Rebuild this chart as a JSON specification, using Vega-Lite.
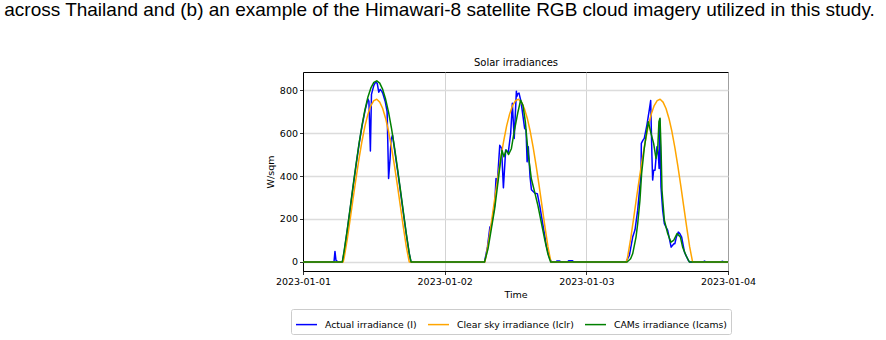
{
  "$schema": "https://vega.github.io/schema/vega-lite/v6.json",
  "width": 425,
  "height": 199,
  "autosize": {"type": "none"},
  "padding": {"left": 303, "top": 72, "right": 158, "bottom": 69},
  "background": "#ffffff",
  "title": {
    "text": "across Thailand and (b) an example of the Himawari-8 satellite RGB cloud imagery utilized in this study.",
    "anchor": "middle",
    "frame": "group",
    "dx": -76,
    "offset": 37,
    "font": "Liberation Sans",
    "fontSize": 19,
    "fontWeight": "normal",
    "color": "#000000"
  },
  "data": {
    "values": [
      {"t": "2023-01-01T00:00", "s": "actual", "v": 0},
      {"t": "2023-01-01T05:15", "s": "actual", "v": 0},
      {"t": "2023-01-01T05:25", "s": "actual", "v": 49},
      {"t": "2023-01-01T05:35", "s": "actual", "v": 8},
      {"t": "2023-01-01T05:45", "s": "actual", "v": 4},
      {"t": "2023-01-01T05:55", "s": "actual", "v": 0},
      {"t": "2023-01-01T06:40", "s": "actual", "v": 0},
      {"t": "2023-01-01T07:00", "s": "actual", "v": 50},
      {"t": "2023-01-01T07:30", "s": "actual", "v": 148},
      {"t": "2023-01-01T08:00", "s": "actual", "v": 248},
      {"t": "2023-01-01T08:30", "s": "actual", "v": 352},
      {"t": "2023-01-01T09:00", "s": "actual", "v": 452},
      {"t": "2023-01-01T09:30", "s": "actual", "v": 548},
      {"t": "2023-01-01T10:00", "s": "actual", "v": 632},
      {"t": "2023-01-01T10:30", "s": "actual", "v": 703},
      {"t": "2023-01-01T11:00", "s": "actual", "v": 758},
      {"t": "2023-01-01T11:10", "s": "actual", "v": 748},
      {"t": "2023-01-01T11:25", "s": "actual", "v": 516},
      {"t": "2023-01-01T11:36", "s": "actual", "v": 780},
      {"t": "2023-01-01T12:00", "s": "actual", "v": 822},
      {"t": "2023-01-01T12:20", "s": "actual", "v": 838},
      {"t": "2023-01-01T12:35", "s": "actual", "v": 830},
      {"t": "2023-01-01T12:50", "s": "actual", "v": 790},
      {"t": "2023-01-01T13:05", "s": "actual", "v": 803},
      {"t": "2023-01-01T13:20", "s": "actual", "v": 795},
      {"t": "2023-01-01T13:30", "s": "actual", "v": 786},
      {"t": "2023-01-01T13:55", "s": "actual", "v": 748},
      {"t": "2023-01-01T14:15", "s": "actual", "v": 700},
      {"t": "2023-01-01T14:30", "s": "actual", "v": 389},
      {"t": "2023-01-01T14:45", "s": "actual", "v": 480},
      {"t": "2023-01-01T14:55", "s": "actual", "v": 570},
      {"t": "2023-01-01T15:10", "s": "actual", "v": 590},
      {"t": "2023-01-01T15:30", "s": "actual", "v": 525},
      {"t": "2023-01-01T16:00", "s": "actual", "v": 430},
      {"t": "2023-01-01T16:30", "s": "actual", "v": 330},
      {"t": "2023-01-01T17:00", "s": "actual", "v": 228},
      {"t": "2023-01-01T17:30", "s": "actual", "v": 128},
      {"t": "2023-01-01T18:00", "s": "actual", "v": 38},
      {"t": "2023-01-01T18:18", "s": "actual", "v": 0},
      {"t": "2023-01-02T06:45", "s": "actual", "v": 0},
      {"t": "2023-01-02T07:15", "s": "actual", "v": 70},
      {"t": "2023-01-02T07:40", "s": "actual", "v": 163},
      {"t": "2023-01-02T07:54", "s": "actual", "v": 169},
      {"t": "2023-01-02T08:28", "s": "actual", "v": 262},
      {"t": "2023-01-02T08:42", "s": "actual", "v": 389},
      {"t": "2023-01-02T08:55", "s": "actual", "v": 365},
      {"t": "2023-01-02T09:20", "s": "actual", "v": 543},
      {"t": "2023-01-02T09:38", "s": "actual", "v": 530},
      {"t": "2023-01-02T09:57", "s": "actual", "v": 345},
      {"t": "2023-01-02T10:20", "s": "actual", "v": 521},
      {"t": "2023-01-02T10:47", "s": "actual", "v": 510},
      {"t": "2023-01-02T11:11", "s": "actual", "v": 599},
      {"t": "2023-01-02T11:28", "s": "actual", "v": 739},
      {"t": "2023-01-02T11:34", "s": "actual", "v": 684},
      {"t": "2023-01-02T11:47", "s": "actual", "v": 575},
      {"t": "2023-01-02T12:09", "s": "actual", "v": 795},
      {"t": "2023-01-02T12:14", "s": "actual", "v": 770},
      {"t": "2023-01-02T12:22", "s": "actual", "v": 782},
      {"t": "2023-01-02T12:36", "s": "actual", "v": 786},
      {"t": "2023-01-02T12:56", "s": "actual", "v": 746},
      {"t": "2023-01-02T13:33", "s": "actual", "v": 622},
      {"t": "2023-01-02T13:47", "s": "actual", "v": 614},
      {"t": "2023-01-02T13:58", "s": "actual", "v": 466},
      {"t": "2023-01-02T14:10", "s": "actual", "v": 536},
      {"t": "2023-01-02T14:28", "s": "actual", "v": 396},
      {"t": "2023-01-02T14:42", "s": "actual", "v": 336},
      {"t": "2023-01-02T15:18", "s": "actual", "v": 320},
      {"t": "2023-01-02T15:42", "s": "actual", "v": 318},
      {"t": "2023-01-02T16:08", "s": "actual", "v": 258},
      {"t": "2023-01-02T16:40", "s": "actual", "v": 169},
      {"t": "2023-01-02T17:00", "s": "actual", "v": 116},
      {"t": "2023-01-02T17:13", "s": "actual", "v": 76},
      {"t": "2023-01-02T17:48", "s": "actual", "v": 15},
      {"t": "2023-01-02T18:06", "s": "actual", "v": 0},
      {"t": "2023-01-02T18:50", "s": "actual", "v": 0},
      {"t": "2023-01-02T19:00", "s": "actual", "v": 5},
      {"t": "2023-01-02T19:30", "s": "actual", "v": 5},
      {"t": "2023-01-02T19:40", "s": "actual", "v": 0},
      {"t": "2023-01-02T20:50", "s": "actual", "v": 0},
      {"t": "2023-01-02T21:00", "s": "actual", "v": 6},
      {"t": "2023-01-02T21:40", "s": "actual", "v": 6},
      {"t": "2023-01-02T21:50", "s": "actual", "v": 0},
      {"t": "2023-01-03T06:43", "s": "actual", "v": 0},
      {"t": "2023-01-03T07:17", "s": "actual", "v": 30},
      {"t": "2023-01-03T07:51", "s": "actual", "v": 116},
      {"t": "2023-01-03T08:15", "s": "actual", "v": 150},
      {"t": "2023-01-03T08:42", "s": "actual", "v": 241},
      {"t": "2023-01-03T09:16", "s": "actual", "v": 412},
      {"t": "2023-01-03T09:19", "s": "actual", "v": 552},
      {"t": "2023-01-03T09:36", "s": "actual", "v": 567},
      {"t": "2023-01-03T09:49", "s": "actual", "v": 575},
      {"t": "2023-01-03T10:16", "s": "actual", "v": 638},
      {"t": "2023-01-03T10:40", "s": "actual", "v": 708},
      {"t": "2023-01-03T10:54", "s": "actual", "v": 751},
      {"t": "2023-01-03T11:07", "s": "actual", "v": 490},
      {"t": "2023-01-03T11:14", "s": "actual", "v": 381},
      {"t": "2023-01-03T11:24", "s": "actual", "v": 427},
      {"t": "2023-01-03T11:38", "s": "actual", "v": 427},
      {"t": "2023-01-03T11:58", "s": "actual", "v": 536},
      {"t": "2023-01-03T12:12", "s": "actual", "v": 497},
      {"t": "2023-01-03T12:20", "s": "actual", "v": 435},
      {"t": "2023-01-03T12:26", "s": "actual", "v": 665},
      {"t": "2023-01-03T12:39", "s": "actual", "v": 349},
      {"t": "2023-01-03T12:56", "s": "actual", "v": 241},
      {"t": "2023-01-03T13:13", "s": "actual", "v": 178},
      {"t": "2023-01-03T13:47", "s": "actual", "v": 147},
      {"t": "2023-01-03T14:22", "s": "actual", "v": 69},
      {"t": "2023-01-03T14:50", "s": "actual", "v": 85},
      {"t": "2023-01-03T15:00", "s": "actual", "v": 85},
      {"t": "2023-01-03T15:15", "s": "actual", "v": 116},
      {"t": "2023-01-03T15:35", "s": "actual", "v": 139},
      {"t": "2023-01-03T15:50", "s": "actual", "v": 132},
      {"t": "2023-01-03T16:09", "s": "actual", "v": 116},
      {"t": "2023-01-03T16:38", "s": "actual", "v": 45},
      {"t": "2023-01-03T17:17", "s": "actual", "v": 7},
      {"t": "2023-01-03T17:30", "s": "actual", "v": 0},
      {"t": "2023-01-03T19:50", "s": "actual", "v": 0},
      {"t": "2023-01-03T20:00", "s": "actual", "v": 4},
      {"t": "2023-01-03T20:20", "s": "actual", "v": 0},
      {"t": "2023-01-03T22:50", "s": "actual", "v": 0},
      {"t": "2023-01-03T23:00", "s": "actual", "v": 3},
      {"t": "2023-01-03T23:20", "s": "actual", "v": 0},
      {"t": "2023-01-04T00:00", "s": "actual", "v": 0},

      {"t": "2023-01-01T00:00", "s": "clear", "v": 0},
      {"t": "2023-01-01T06:48", "s": "clear", "v": 0},
      {"t": "2023-01-01T07:00", "s": "clear", "v": 24},
      {"t": "2023-01-01T07:30", "s": "clear", "v": 106},
      {"t": "2023-01-01T08:00", "s": "clear", "v": 201},
      {"t": "2023-01-01T08:30", "s": "clear", "v": 298},
      {"t": "2023-01-01T09:00", "s": "clear", "v": 392},
      {"t": "2023-01-01T09:30", "s": "clear", "v": 482},
      {"t": "2023-01-01T10:00", "s": "clear", "v": 563},
      {"t": "2023-01-01T10:30", "s": "clear", "v": 633},
      {"t": "2023-01-01T11:00", "s": "clear", "v": 688},
      {"t": "2023-01-01T11:30", "s": "clear", "v": 728},
      {"t": "2023-01-01T12:00", "s": "clear", "v": 751},
      {"t": "2023-01-01T12:30", "s": "clear", "v": 757},
      {"t": "2023-01-01T13:00", "s": "clear", "v": 744},
      {"t": "2023-01-01T13:30", "s": "clear", "v": 714},
      {"t": "2023-01-01T14:00", "s": "clear", "v": 668},
      {"t": "2023-01-01T14:30", "s": "clear", "v": 607},
      {"t": "2023-01-01T15:00", "s": "clear", "v": 532},
      {"t": "2023-01-01T15:30", "s": "clear", "v": 447},
      {"t": "2023-01-01T16:00", "s": "clear", "v": 355},
      {"t": "2023-01-01T16:30", "s": "clear", "v": 259},
      {"t": "2023-01-01T17:00", "s": "clear", "v": 162},
      {"t": "2023-01-01T17:30", "s": "clear", "v": 71},
      {"t": "2023-01-01T18:00", "s": "clear", "v": 0},
      {"t": "2023-01-02T06:48", "s": "clear", "v": 0},
      {"t": "2023-01-02T07:00", "s": "clear", "v": 24},
      {"t": "2023-01-02T07:30", "s": "clear", "v": 106},
      {"t": "2023-01-02T08:00", "s": "clear", "v": 201},
      {"t": "2023-01-02T08:30", "s": "clear", "v": 298},
      {"t": "2023-01-02T09:00", "s": "clear", "v": 392},
      {"t": "2023-01-02T09:30", "s": "clear", "v": 482},
      {"t": "2023-01-02T10:00", "s": "clear", "v": 563},
      {"t": "2023-01-02T10:30", "s": "clear", "v": 633},
      {"t": "2023-01-02T11:00", "s": "clear", "v": 688},
      {"t": "2023-01-02T11:30", "s": "clear", "v": 728},
      {"t": "2023-01-02T12:00", "s": "clear", "v": 751},
      {"t": "2023-01-02T12:30", "s": "clear", "v": 757},
      {"t": "2023-01-02T13:00", "s": "clear", "v": 744},
      {"t": "2023-01-02T13:30", "s": "clear", "v": 714},
      {"t": "2023-01-02T14:00", "s": "clear", "v": 668},
      {"t": "2023-01-02T14:30", "s": "clear", "v": 607},
      {"t": "2023-01-02T15:00", "s": "clear", "v": 532},
      {"t": "2023-01-02T15:30", "s": "clear", "v": 447},
      {"t": "2023-01-02T16:00", "s": "clear", "v": 355},
      {"t": "2023-01-02T16:30", "s": "clear", "v": 259},
      {"t": "2023-01-02T17:00", "s": "clear", "v": 162},
      {"t": "2023-01-02T17:30", "s": "clear", "v": 71},
      {"t": "2023-01-02T18:00", "s": "clear", "v": 0},
      {"t": "2023-01-03T06:48", "s": "clear", "v": 0},
      {"t": "2023-01-03T07:00", "s": "clear", "v": 24},
      {"t": "2023-01-03T07:30", "s": "clear", "v": 106},
      {"t": "2023-01-03T08:00", "s": "clear", "v": 201},
      {"t": "2023-01-03T08:30", "s": "clear", "v": 298},
      {"t": "2023-01-03T09:00", "s": "clear", "v": 392},
      {"t": "2023-01-03T09:30", "s": "clear", "v": 482},
      {"t": "2023-01-03T10:00", "s": "clear", "v": 563},
      {"t": "2023-01-03T10:30", "s": "clear", "v": 633},
      {"t": "2023-01-03T11:00", "s": "clear", "v": 688},
      {"t": "2023-01-03T11:30", "s": "clear", "v": 728},
      {"t": "2023-01-03T12:00", "s": "clear", "v": 751},
      {"t": "2023-01-03T12:30", "s": "clear", "v": 757},
      {"t": "2023-01-03T13:00", "s": "clear", "v": 744},
      {"t": "2023-01-03T13:30", "s": "clear", "v": 714},
      {"t": "2023-01-03T14:00", "s": "clear", "v": 668},
      {"t": "2023-01-03T14:30", "s": "clear", "v": 607},
      {"t": "2023-01-03T15:00", "s": "clear", "v": 532},
      {"t": "2023-01-03T15:30", "s": "clear", "v": 447},
      {"t": "2023-01-03T16:00", "s": "clear", "v": 355},
      {"t": "2023-01-03T16:30", "s": "clear", "v": 259},
      {"t": "2023-01-03T17:00", "s": "clear", "v": 162},
      {"t": "2023-01-03T17:30", "s": "clear", "v": 71},
      {"t": "2023-01-03T18:00", "s": "clear", "v": 0},
      {"t": "2023-01-04T00:00", "s": "clear", "v": 0},

      {"t": "2023-01-01T00:00", "s": "cams", "v": 0},
      {"t": "2023-01-01T06:40", "s": "cams", "v": 0},
      {"t": "2023-01-01T07:00", "s": "cams", "v": 58},
      {"t": "2023-01-01T07:30", "s": "cams", "v": 151},
      {"t": "2023-01-01T08:00", "s": "cams", "v": 253},
      {"t": "2023-01-01T08:30", "s": "cams", "v": 358},
      {"t": "2023-01-01T09:00", "s": "cams", "v": 457},
      {"t": "2023-01-01T09:30", "s": "cams", "v": 552},
      {"t": "2023-01-01T10:00", "s": "cams", "v": 637},
      {"t": "2023-01-01T10:30", "s": "cams", "v": 709},
      {"t": "2023-01-01T11:00", "s": "cams", "v": 768},
      {"t": "2023-01-01T11:30", "s": "cams", "v": 810},
      {"t": "2023-01-01T12:00", "s": "cams", "v": 836},
      {"t": "2023-01-01T12:30", "s": "cams", "v": 843},
      {"t": "2023-01-01T13:00", "s": "cams", "v": 832},
      {"t": "2023-01-01T13:30", "s": "cams", "v": 803},
      {"t": "2023-01-01T14:00", "s": "cams", "v": 757},
      {"t": "2023-01-01T14:30", "s": "cams", "v": 696},
      {"t": "2023-01-01T15:00", "s": "cams", "v": 620},
      {"t": "2023-01-01T15:30", "s": "cams", "v": 533},
      {"t": "2023-01-01T16:00", "s": "cams", "v": 437},
      {"t": "2023-01-01T16:30", "s": "cams", "v": 337},
      {"t": "2023-01-01T17:00", "s": "cams", "v": 233},
      {"t": "2023-01-01T17:30", "s": "cams", "v": 132},
      {"t": "2023-01-01T18:00", "s": "cams", "v": 41},
      {"t": "2023-01-01T18:18", "s": "cams", "v": 0},
      {"t": "2023-01-02T06:45", "s": "cams", "v": 0},
      {"t": "2023-01-02T07:20", "s": "cams", "v": 60},
      {"t": "2023-01-02T07:54", "s": "cams", "v": 153},
      {"t": "2023-01-02T08:28", "s": "cams", "v": 247},
      {"t": "2023-01-02T09:02", "s": "cams", "v": 371},
      {"t": "2023-01-02T09:29", "s": "cams", "v": 473},
      {"t": "2023-01-02T09:43", "s": "cams", "v": 519},
      {"t": "2023-01-02T10:03", "s": "cams", "v": 490},
      {"t": "2023-01-02T10:25", "s": "cams", "v": 521},
      {"t": "2023-01-02T10:50", "s": "cams", "v": 500},
      {"t": "2023-01-02T11:18", "s": "cams", "v": 527},
      {"t": "2023-01-02T11:52", "s": "cams", "v": 620},
      {"t": "2023-01-02T12:25", "s": "cams", "v": 698},
      {"t": "2023-01-02T12:52", "s": "cams", "v": 753},
      {"t": "2023-01-02T13:16", "s": "cams", "v": 729},
      {"t": "2023-01-02T13:40", "s": "cams", "v": 652},
      {"t": "2023-01-02T14:07", "s": "cams", "v": 511},
      {"t": "2023-01-02T14:41", "s": "cams", "v": 387},
      {"t": "2023-01-02T15:15", "s": "cams", "v": 325},
      {"t": "2023-01-02T15:48", "s": "cams", "v": 262},
      {"t": "2023-01-02T16:22", "s": "cams", "v": 184},
      {"t": "2023-01-02T16:56", "s": "cams", "v": 107},
      {"t": "2023-01-02T17:30", "s": "cams", "v": 36},
      {"t": "2023-01-02T17:57", "s": "cams", "v": 0},
      {"t": "2023-01-03T06:54", "s": "cams", "v": 0},
      {"t": "2023-01-03T07:30", "s": "cams", "v": 15},
      {"t": "2023-01-03T07:51", "s": "cams", "v": 38},
      {"t": "2023-01-03T08:25", "s": "cams", "v": 116},
      {"t": "2023-01-03T08:42", "s": "cams", "v": 178},
      {"t": "2023-01-03T09:05", "s": "cams", "v": 287},
      {"t": "2023-01-03T09:22", "s": "cams", "v": 412},
      {"t": "2023-01-03T09:49", "s": "cams", "v": 529},
      {"t": "2023-01-03T10:16", "s": "cams", "v": 614},
      {"t": "2023-01-03T10:30", "s": "cams", "v": 653},
      {"t": "2023-01-03T10:57", "s": "cams", "v": 599},
      {"t": "2023-01-03T11:24", "s": "cams", "v": 552},
      {"t": "2023-01-03T11:48", "s": "cams", "v": 482},
      {"t": "2023-01-03T12:05", "s": "cams", "v": 521},
      {"t": "2023-01-03T12:18", "s": "cams", "v": 653},
      {"t": "2023-01-03T12:29", "s": "cams", "v": 669},
      {"t": "2023-01-03T12:39", "s": "cams", "v": 536},
      {"t": "2023-01-03T12:49", "s": "cams", "v": 334},
      {"t": "2023-01-03T13:13", "s": "cams", "v": 194},
      {"t": "2023-01-03T13:47", "s": "cams", "v": 132},
      {"t": "2023-01-03T14:20", "s": "cams", "v": 92},
      {"t": "2023-01-03T14:47", "s": "cams", "v": 100},
      {"t": "2023-01-03T15:22", "s": "cams", "v": 132},
      {"t": "2023-01-03T15:56", "s": "cams", "v": 116},
      {"t": "2023-01-03T16:19", "s": "cams", "v": 69},
      {"t": "2023-01-03T16:53", "s": "cams", "v": 30},
      {"t": "2023-01-03T17:27", "s": "cams", "v": 0},
      {"t": "2023-01-04T00:00", "s": "cams", "v": 0}
    ]
  },
  "encoding": {
    "x": {
      "field": "t",
      "type": "temporal",
      "title": "Time",
      "scale": {"domain": [{"year": 2023, "month": 1, "date": 1}, {"year": 2023, "month": 1, "date": 4}]},
      "axis": {
        "values": [
          {"year": 2023, "month": 1, "date": 1},
          {"year": 2023, "month": 1, "date": 2},
          {"year": 2023, "month": 1, "date": 3},
          {"year": 2023, "month": 1, "date": 4}
        ],
        "format": "%Y-%m-%d",
        "labelAlign": "center",
        "labelFlush": false,
        "labelOverlap": false
      }
    },
    "y": {
      "field": "v",
      "type": "quantitative",
      "title": "W/sqm",
      "scale": {"domain": [-42, 884], "nice": false, "zero": false},
      "axis": {"values": [0, 200, 400, 600, 800]}
    },
    "color": {
      "field": "s",
      "type": "nominal",
      "scale": {"domain": ["actual", "clear", "cams"], "range": ["#0000ff", "#ffa500", "#008000"]},
      "legend": {
        "orient": "none",
        "legendX": -12,
        "legendY": 237,
        "direction": "horizontal",
        "title": null,
        "labelExpr": "datum.value == 'actual' ? 'Actual irradiance (I)' : datum.value == 'clear' ? 'Clear sky irradiance (Iclr)' : 'CAMs irradiance (Icams)'"
      }
    }
  },
  "layer": [
    {
      "transform": [{"filter": "datum.s == 'actual'"}],
      "mark": {"type": "line", "strokeWidth": 1.5, "strokeJoin": "round"}
    },
    {
      "transform": [{"filter": "datum.s == 'clear'"}],
      "mark": {"type": "line", "strokeWidth": 1.5, "strokeJoin": "round"},
      "encoding": {
        "x": {
          "field": "t",
          "type": "temporal",
          "scale": {"domain": [{"year": 2023, "month": 1, "date": 1}, {"year": 2023, "month": 1, "date": 4}]},
          "axis": null
        }
      }
    },
    {
      "transform": [{"filter": "datum.s == 'cams'"}],
      "mark": {"type": "line", "strokeWidth": 1.5, "strokeJoin": "round"},
      "encoding": {
        "x": {
          "field": "t",
          "type": "temporal",
          "title": "Solar irradiances",
          "scale": {"domain": [{"year": 2023, "month": 1, "date": 1}, {"year": 2023, "month": 1, "date": 4}]},
          "axis": {
            "orient": "top",
            "labels": false,
            "ticks": false,
            "domain": false,
            "grid": false,
            "titleFontSize": 10,
            "titlePadding": 5
          }
        }
      }
    }
  ],
  "resolve": {"axis": {"x": "independent"}},
  "config": {
    "view": {"stroke": "#000000", "strokeWidth": 1},
    "font": "DejaVu Sans",
    "axis": {
      "labelFont": "DejaVu Sans",
      "labelFontSize": 9.5,
      "labelColor": "#000000",
      "titleFont": "DejaVu Sans",
      "titleFontSize": 9.5,
      "titleFontWeight": "normal",
      "titleColor": "#000000",
      "tickColor": "#000000",
      "tickSize": 3.5,
      "tickWidth": 0.8,
      "domainColor": "#000000",
      "domainWidth": 1
    },
    "axisX": {"gridColor": "#c8c8c8", "gridWidth": 0.8, "labelPadding": 2, "titlePadding": 3, "labelAngle": 0},
    "axisY": {"gridColor": "#dcdcdc", "gridWidth": 1.5, "labelPadding": 2, "titlePadding": 4},
    "legend": {
      "symbolType": "stroke",
      "symbolSize": 441,
      "symbolStrokeWidth": 1.5,
      "labelFont": "DejaVu Sans",
      "labelFontSize": 9.3,
      "labelColor": "#000000",
      "labelOffset": 7,
      "columnPadding": 8,
      "padding": 4,
      "strokeColor": "#cccccc",
      "cornerRadius": 2,
      "fillColor": "#ffffff"
    }
  }
}
